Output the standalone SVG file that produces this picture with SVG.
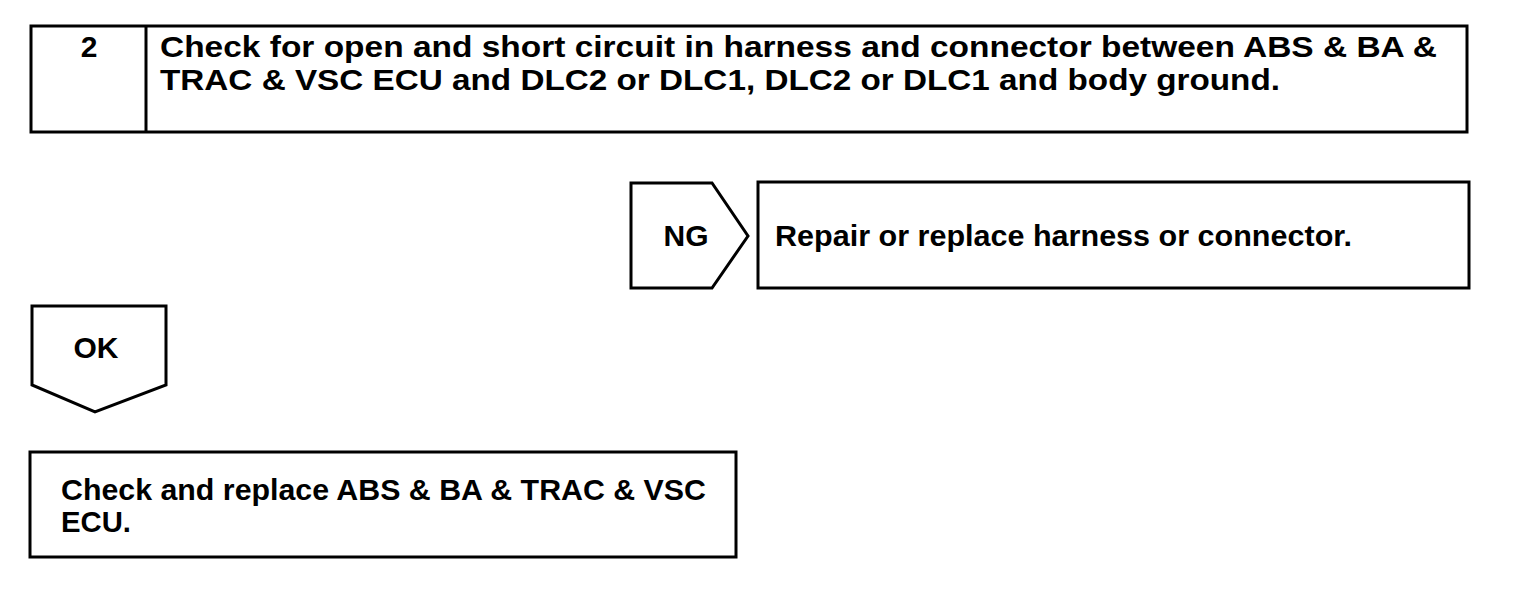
<svg xmlns="http://www.w3.org/2000/svg" width="1520" height="606" viewBox="0 0 1520 606">
<style>
.s{fill:#fff;stroke:#000;stroke-width:3}
.t{font-family:"Liberation Sans",Arial,sans-serif;font-weight:bold;font-size:30px;fill:#000}
</style>
<rect width="1520" height="606" fill="#fff"/>
<g id="step2">
<rect class="s" x="31" y="26" width="1436" height="106"/>
<line x1="146" y1="26" x2="146" y2="132" stroke="#000" stroke-width="3"/>
<text class="t" x="89" y="57" text-anchor="middle">2</text>
<text class="t" x="160" y="57" textLength="1277" lengthAdjust="spacingAndGlyphs">Check for open and short circuit in harness and connector between ABS &amp; BA &amp;</text>
<text class="t" x="160" y="90" textLength="1120" lengthAdjust="spacingAndGlyphs">TRAC &amp; VSC ECU and DLC2 or DLC1, DLC2 or DLC1 and body ground.</text>
</g>
<g id="ng">
<polygon class="s" points="631,183 712,183 748,236 712,288 631,288"/>
<text class="t" x="686" y="246" text-anchor="middle">NG</text>
</g>
<g id="repair">
<rect class="s" x="758" y="182" width="711" height="106"/>
<text class="t" x="775" y="246" textLength="577" lengthAdjust="spacingAndGlyphs">Repair or replace harness or connector.</text>
</g>
<g id="ok">
<polygon class="s" points="32,306 166,306 166,385 95,412 32,385"/>
<text class="t" x="96" y="358" text-anchor="middle">OK</text>
</g>
<g id="replace">
<rect class="s" x="30" y="452" width="706" height="105"/>
<text class="t" x="61" y="500" textLength="645" lengthAdjust="spacingAndGlyphs">Check and replace ABS &amp; BA &amp; TRAC &amp; VSC</text>
<text class="t" x="61" y="532" textLength="70" lengthAdjust="spacingAndGlyphs">ECU.</text>
</g>
<g id="connectors"></g>
</svg>
